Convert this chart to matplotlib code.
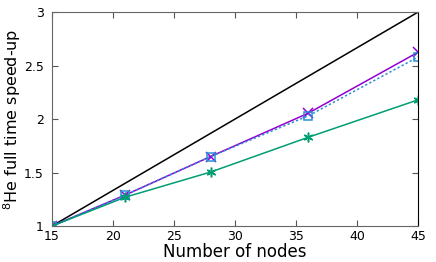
import numpy as np
import matplotlib.pyplot as plt

nodes = [15, 21, 28, 36, 45]
ideal = [1, 3]
ideal_nodes = [15, 45]
speedup_a = [1.0, 1.29, 1.65, 2.055, 2.625]
speedup_b = [1.0, 1.29, 1.65, 2.03, 2.58]
speedup_c = [1.0, 1.27, 1.505, 1.83, 2.18]

fig = plt.figure(figsize=(4.36, 2.62), dpi=100)
ax = fig.add_axes([0.119, 0.137, 0.84, 0.817])

ax.plot(ideal_nodes, ideal, color="black", lw=1.1)
ax.plot(nodes, speedup_a, color="#9400d3", lw=1.1, marker="x", ms=7, mew=1.1)
ax.plot(nodes, speedup_b, color="#2a8fd4", lw=1.1, ls=(0, (1.5, 1.5)), marker="s",
        ms=6, mfc="none", mew=1.1)
ax.plot(nodes, speedup_c, color="#009e73", lw=1.1, marker=(6, 2, 0), ms=7, mew=1.1)

ax.set_xlim(15, 45)
ax.set_ylim(1, 3)
ax.set_xticks([15, 20, 25, 30, 35, 40, 45])
ax.set_yticks([1, 1.5, 2, 2.5, 3])
ax.set_yticklabels(["1", "1.5", "2", "2.5", "3"])
ax.tick_params(direction="in", top=True, right=True, labelsize=9, length=4,
               color="#555555")
ax.tick_params(axis="y", pad=6)
ax.tick_params(axis="x", pad=3)
for s in ["left", "bottom", "top"]:
    ax.spines[s].set_color("#666666")
ax.spines["right"].set_color("black")

ax.set_xlabel("Number of nodes", fontsize=12, labelpad=0)
ax.set_ylabel("$^{8}$He full time speed-up", fontsize=11.5)
ax.yaxis.set_label_coords(-0.08, 0.5)

fig.savefig("out.png", dpi=100)
